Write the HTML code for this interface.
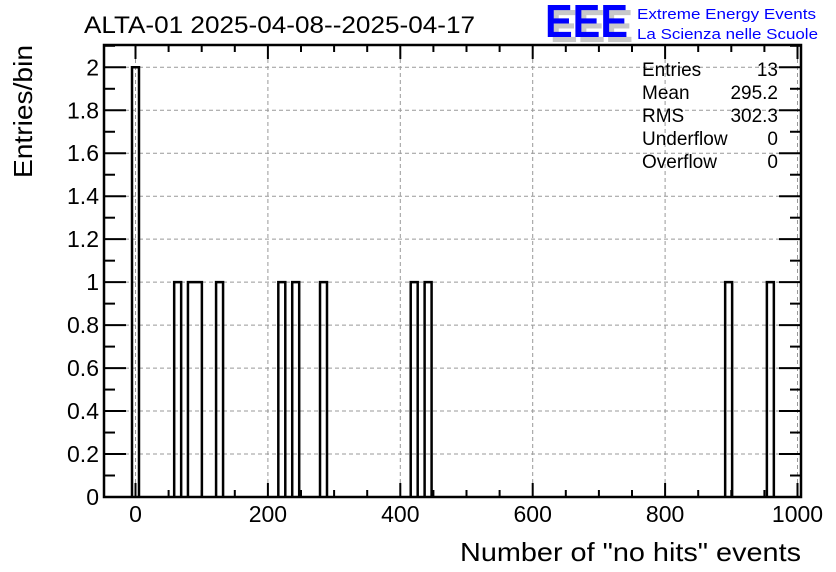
<!DOCTYPE html>
<html><head><meta charset="utf-8"><style>
html,body{margin:0;padding:0;background:#fff;}
svg{display:block;font-family:"Liberation Sans",Arial,sans-serif;}
</style></head><body>
<svg id="chart" width="836" height="572" viewBox="0 0 836 572">
<rect x="0" y="0" width="836" height="572" fill="#fff"/>
<g id="grid"></g>
<g id="bars"></g>
<g id="axes"></g>
<text x="84" y="33" font-size="24" fill="#000" textLength="391" lengthAdjust="spacingAndGlyphs">ALTA-01 2025-04-08--2025-04-17</text>
<g>
<text x="550" y="42" font-size="46" font-weight="bold" fill="#c8c8c8" textLength="83" lengthAdjust="spacingAndGlyphs">EEE</text>
<text x="545" y="37" font-size="46" font-weight="bold" fill="#0000ff" textLength="83" lengthAdjust="spacingAndGlyphs">EEE</text>
<text x="637" y="19" font-size="15" fill="#0000ff" textLength="179" lengthAdjust="spacingAndGlyphs">Extreme Energy Events</text>
<text x="637" y="39" font-size="15" fill="#0000ff" textLength="181" lengthAdjust="spacingAndGlyphs">La Scienza nelle Scuole</text>
</g>
<g font-size="19" fill="#000">
<text x="642" y="76">Entries</text><text x="778" y="76" text-anchor="end">13</text>
<text x="642" y="99">Mean</text><text x="778" y="99" text-anchor="end">295.2</text>
<text x="642" y="122">RMS</text><text x="778" y="122" text-anchor="end">302.3</text>
<text x="642" y="145">Underflow</text><text x="778" y="145" text-anchor="end">0</text>
<text x="642" y="168">Overflow</text><text x="778" y="168" text-anchor="end">0</text>
</g>
<text x="460" y="561" font-size="26" fill="#000" textLength="341" lengthAdjust="spacingAndGlyphs">Number of "no hits" events</text>
<text transform="translate(32,178) rotate(-90)" font-size="26" fill="#000" textLength="133" lengthAdjust="spacingAndGlyphs">Entries/bin</text>
</svg>
<script>
const binCenters = [0, 63.7, 84.5, 95, 127, 221, 242, 284, 421, 442, 896, 959];
const binCounts = [2, 1, 1, 1, 1, 1, 1, 1, 1, 1, 1, 1];
const binWidth = 10.54;
const xTicks = [0, 200, 400, 600, 800, 1000];
const yTicks = [0, 0.2, 0.4, 0.6, 0.8, 1, 1.2, 1.4, 1.6, 1.8, 2];
const yTickLabels = ["0","0.2","0.4","0.6","0.8","1","1.2","1.4","1.6","1.8","2"];

const L=104,R=801,T=45,B=497;
const X0=135.5, XS=0.662;
function xs(v){return X0+v*XS;}
function ys(v){return B-v*(B-67.3)/2;}
const NS="http://www.w3.org/2000/svg";
function mk(tag,attrs,parent){const e=document.createElementNS(NS,tag);for(const k in attrs)e.setAttribute(k,attrs[k]);parent.appendChild(e);return e;}
const grid=document.getElementById('grid'),bars=document.getElementById('bars'),axes=document.getElementById('axes');
xTicks.forEach(t=>{const x=xs(t);if(x>L&&x<R){
 const l=mk('line',{x1:x,x2:x,y1:T,y2:B,stroke:'#999','stroke-dasharray':'4,3','stroke-width':1},grid);
 
 }});
yTicks.forEach(t=>{const y=ys(t);if(y>T&&y<B){
 const l=mk('line',{x1:L,x2:R,y1:y,y2:y,stroke:'#999','stroke-dasharray':'4,3','stroke-width':1},grid);
 
 }});
// outline-style histogram: contiguous bins merged
let d='';
for(let i=0;i<binCenters.length;i++){
 const lo=binCenters[i]-binWidth/2,hi=binCenters[i]+binWidth/2;
 const prevHi=i>0?binCenters[i-1]+binWidth/2:null;
 const contiguous=prevHi!==null && Math.abs(prevHi-lo)<binWidth*0.3;
 if(contiguous){d+=` V${ys(binCounts[i])} H${xs(hi)}`;}
 else{ if(d) d+=` V${B}`; d+=` M${xs(lo)},${B} V${ys(binCounts[i])} H${xs(hi)}`;}
}
d+=` V${B}`;
const p=mk('path',{d:d,fill:'none',stroke:'#000','stroke-width':2.5},bars);


const f=mk('rect',{x:L,y:T,width:R-L,height:B-T,fill:'none',stroke:'#000','stroke-width':2.5},axes);


for(let v=-50;v<=1000;v+=50){const x=xs(v);if(x<L||x>R)continue;const len=v%200===0?14:7;
 mk('line',{x1:x,x2:x,y1:B,y2:B-len,stroke:'#000','stroke-width':2},axes);
 mk('line',{x1:x,x2:x,y1:T,y2:T+len,stroke:'#000','stroke-width':2},axes);}
for(let k=0;k<=21;k++){const v=k*0.1,y=ys(v);if(y<T)continue;const len=k%2===0?22:11;
 mk('line',{x1:L,x2:L+len,y1:y,y2:y,stroke:'#000','stroke-width':2},axes);
 mk('line',{x1:R,x2:R-len,y1:y,y2:y,stroke:'#000','stroke-width':2},axes);}
xTicks.forEach(t=>{const tx=mk('text',{x:xs(t),y:522,'font-size':23,'text-anchor':'middle',fill:'#000'},axes);tx.textContent=String(t);
 
 });
yTicks.forEach((t,i)=>{const tx=mk('text',{x:99,y:ys(t)+8,'font-size':23,'text-anchor':'end',fill:'#000'},axes);tx.textContent=yTickLabels[i];
 
 });
</script>
</body></html>
